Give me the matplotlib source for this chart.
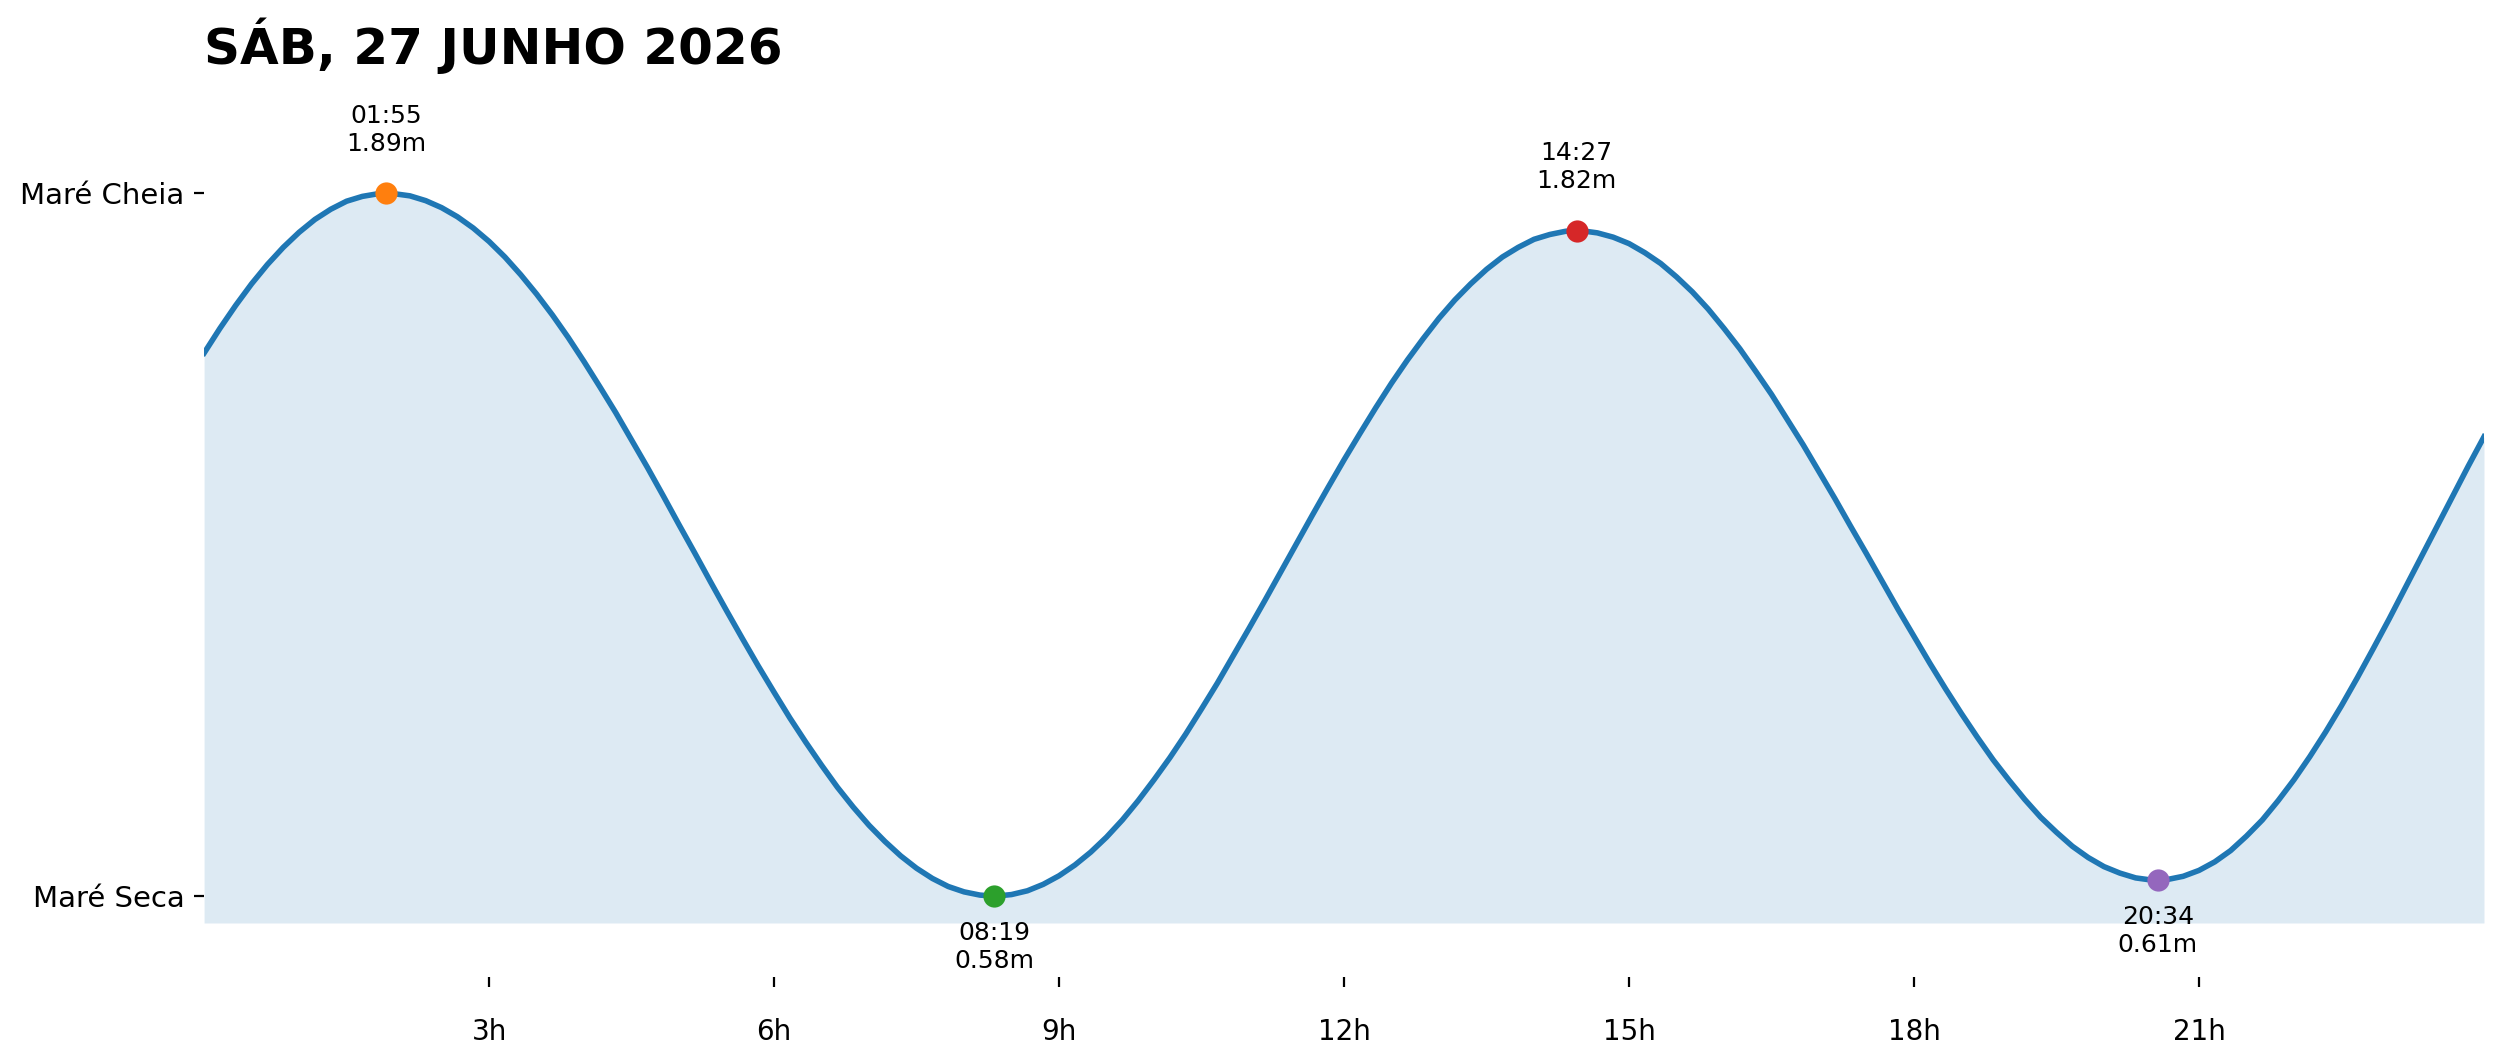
import numpy as np
import matplotlib
matplotlib.use("Agg")
import matplotlib.pyplot as plt

# Altura da maré lida no gráfico a cada 10 minutos (m), das 00h às 24h
horas = np.arange(145) / 6
alturas = [
    1.592, 1.638, 1.681, 1.721, 1.757, 1.789, 1.817, 1.841, 1.860, 1.875, 1.884, 1.889,  # 00h
    1.889, 1.885, 1.876, 1.863, 1.846, 1.825, 1.800, 1.771, 1.738, 1.702, 1.663, 1.621,  # 02h
    1.576, 1.529, 1.481, 1.430, 1.379, 1.326, 1.272, 1.219, 1.165, 1.112, 1.060, 1.009,  # 04h
    0.960, 0.912, 0.867, 0.824, 0.783, 0.746, 0.712, 0.682, 0.655, 0.632, 0.613, 0.598,  # 06h
    0.588, 0.582, 0.580, 0.583, 0.590, 0.602, 0.618, 0.638, 0.662, 0.690, 0.722, 0.758,  # 08h
    0.797, 0.838, 0.882, 0.929, 0.977, 1.028, 1.079, 1.131, 1.184, 1.237, 1.290, 1.342,  # 10h
    1.393, 1.442, 1.490, 1.536, 1.579, 1.619, 1.657, 1.691, 1.721, 1.748, 1.771, 1.789,  # 12h
    1.804, 1.813, 1.819, 1.820, 1.816, 1.808, 1.796, 1.779, 1.759, 1.734, 1.706, 1.674,  # 14h
    1.638, 1.600, 1.558, 1.515, 1.468, 1.421, 1.371, 1.321, 1.269, 1.218, 1.166, 1.114,  # 16h
    1.064, 1.014, 0.966, 0.920, 0.876, 0.834, 0.796, 0.760, 0.727, 0.699, 0.673, 0.652,  # 18h
    0.635, 0.623, 0.614, 0.610, 0.611, 0.617, 0.628, 0.644, 0.665, 0.692, 0.722, 0.758,  # 20h
    0.797, 0.840, 0.886, 0.935, 0.987, 1.041, 1.096, 1.153, 1.210, 1.267, 1.324, 1.381,  # 22h
    1.436,  # 24h
]

# Preia-mar e baixa-mar do dia
extremos_hora = ["01:55", "08:19", "14:27", "20:34"]
extremos_altura = [1.89, 0.58, 1.82, 0.61]
cores = ["tab:orange", "tab:green", "tab:red", "tab:purple"]

titulo = "SÁB, 27 JUNHO 2026"
ticks_h = [3, 6, 9, 12, 15, 18, 21]

t_ext = [int(h[:2]) + int(h[3:]) / 60 for h in extremos_hora]

# juntar os extremos à curva
x = np.concatenate([horas, t_ext])
y = np.concatenate([alturas, extremos_altura])
ordem = np.argsort(x)
x, y = x[ordem], y[ordem]

hmin = min(extremos_altura)
hmax = max(extremos_altura)

fig = plt.figure(figsize=(2501 / 200, 1061 / 200), dpi=200)
ax = fig.add_axes([0.0816, 0.0795, 0.9116, 0.8396])

ax.plot(x, y, color="tab:blue", linewidth=2, zorder=3)
ax.fill_between(x, y, hmin - 0.05, color="tab:blue", alpha=0.15, linewidth=0)

for t, h, hora, c in zip(t_ext, extremos_altura, extremos_hora, cores):
    ax.plot(t, h, "o", color=c, markersize=8, markeredgewidth=0, zorder=5)
    if h > (hmin + hmax) / 2:
        ax.annotate("{}\n{:.2f}m".format(hora, h), (t, h), xytext=(0, 13.5),
                    textcoords="offset points", ha="center", va="bottom", fontsize=9)
    else:
        ax.annotate("{}\n{:.2f}m".format(hora, h), (t, h), xytext=(0, -9),
                    textcoords="offset points", ha="center", va="top", fontsize=9)

ax.set_xlim(0, 24)
ax.set_ylim(hmin - 0.15, hmax + 0.2)
ax.set_xticks(ticks_h)
ax.set_xticklabels(["{}h".format(t) for t in ticks_h])
ax.set_yticks([hmax, hmin])
ax.set_yticklabels(["Maré Cheia", "Maré Seca"])
ax.tick_params(axis="x", labelsize=10, pad=11.5)
ax.tick_params(axis="y", labelsize=10.5)
for s in ax.spines.values():
    s.set_visible(False)

ax.set_title(titulo, loc="left", fontsize=18, fontweight="bold", pad=8)

fig.savefig("out.png", dpi=200)
